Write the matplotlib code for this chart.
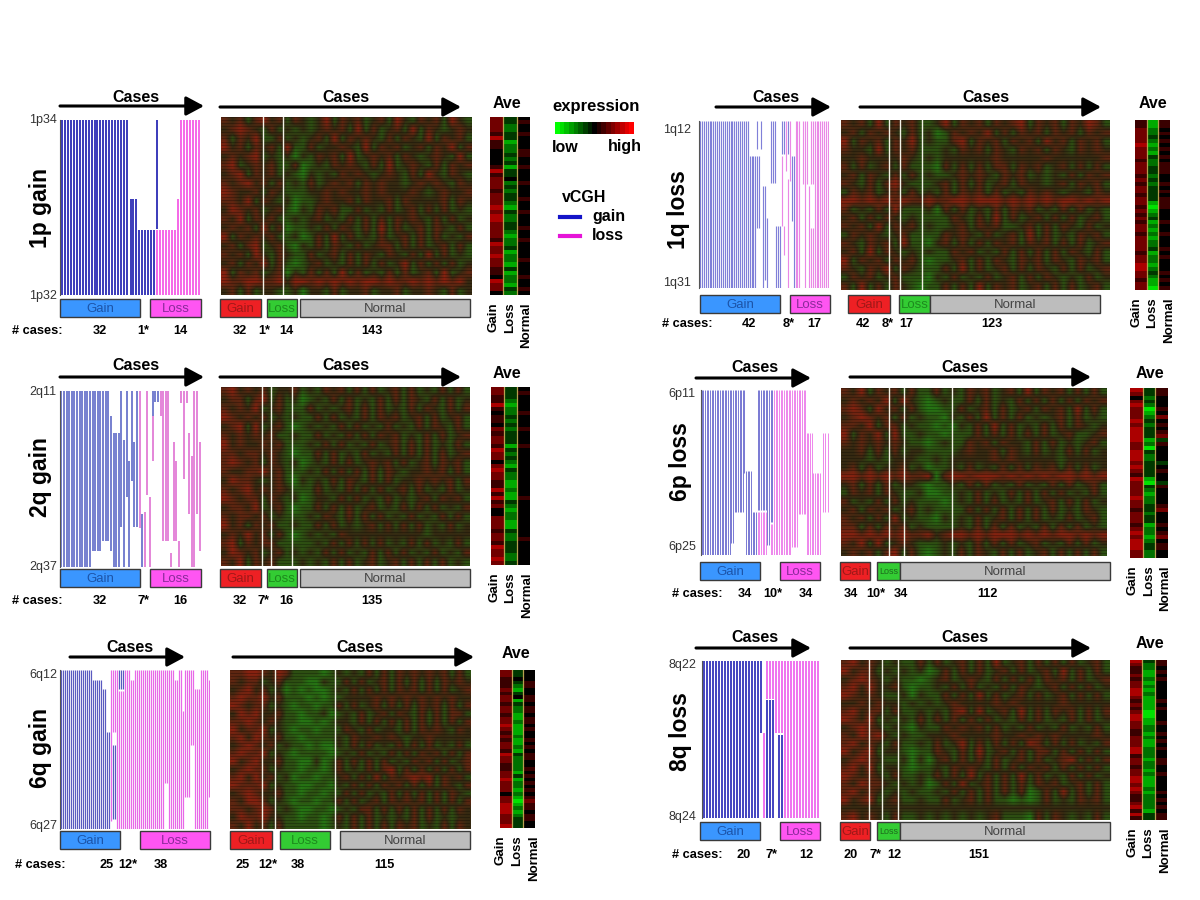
import numpy as np
import matplotlib
matplotlib.use("Agg")
import matplotlib.pyplot as plt
from matplotlib.colors import LinearSegmentedColormap
from matplotlib.patches import Rectangle

plt.rcParams['font.family'] = ['Liberation Sans', 'DejaVu Sans']

# ------------------------------
# vCGH runs: (how many cases, kind, top %, bottom %, [kind, top %, bottom %])
# ------------------------------
V_1P = [(23,'g',0,100),(3,'g',45,100),(6,'g',63,100),(1,'g',0,62,'l',63,100),
        (6,'l',63,100),(1,'l',45,100),(7,'l',0,100)]
V_2Q = [(12,'g',0,100),(4,'g',0,91),(3,'g',0,85),(1,'g',14,91),(2,'g',24,100),
        (1,'g',24,100),(1,'g',0,77),(1,'g',28,100),(1,'g',0,60),(1,'g',40,100),
        (1,'g',0,51),(1,'g',29,77),(1,'g',0,77),(1,'l',0,78),(1,'g',70,100),
        (1,'l',69,100),(1,'l',0,59),(1,'l',60,100),(1,'g',0,14,'l',14,40),
        (1,'g',0,6),(1,'g',0,6),
        (1,'l',0,14),(3,'l',0,85),(1,'l',92,100),(1,'l',29,85),(1,'l',40,85),
        (1,'l',85,100),(1,'l',0,7),(1,'l',0,50),(1,'l',0,7),(1,'l',24,70),
        (1,'l',37,100),(1,'l',0,100),(1,'l',0,70),(1,'l',29,91)]
V_1Q = [(26,'g',0,100),(4,'g',21,100),(1,'g',0,17,'g',21,64),(1,'g',21,64),
        (1,'g',0,17),(1,'g',39,100),(1,'g',39,95),(1,'g',58,100),(1,),
        (2,'g',0,37),(1,'g',0,37),(1,'g',63,100),(2,'g',63,100),
        (1,'g',0,20,'l',21,63),(1,'g',0,20,'l',63,80),(1,'l',0,30),
        (1,'g',0,20,'l',35,100),(1,'l',0,36),(1,'g',21,60),(1,'g',21,100),(1,'l',0,100),
        (2,'l',0,100),(1,),(1,'l',0,38),(1,'l',0,100),(1,'l',0,38),(1,'l',39,100),
        (2,'l',0,38,'l',64,100),(8,'l',0,100)]
V_6P = [(18,'g',0,100),(2,'g',0,93),(6,'g',0,74),(1,'g',0,50),(4,'g',49,100),(3,'g',74,100),
        (6,'g',0,73,'l',74,100),(2,'g',0,94),(2,'g',0,80,'l',81,100),
        (11,'l',0,100),(4,'l',0,95),(5,'l',0,75),(4,'l',26,100),(5,'l',50,100),
        (1,),(2,'l',26,74),(1,),(1,'l',26,74)]
V_6Q = [(16,'g',0,100),(5,'g',6,100),(2,'g',12,100),(2,'g',39,100),
        (1,'l',0,95),(2,'g',47,94,'l',0,39),(1,'l',0,100),(3,'g',0,12,'l',13,100),
        (1,'l',0,100),(2,'l',0,100),(2,'l',6,100),
        (15,'l',0,100),(2,'l',0,71),(3,'l',0,100),(2,'l',6,100),(2,'l',0,100),(1,'l',26,100),
        (2,'l',0,80),(1,'l',0,80),(2,'l',0,47),(3,'l',12,100),(4,'l',0,100),(1,'l',6,80)]
V_8Q = [(19,'g',0,100),(1,'g',0,46),(1,'l',46,100),(3,'l',0,24,'g',25,100),(1,'l',0,46),
        (2,'l',0,46,'g',47,100),(12,'l',0,100)]

# ------------------------------
# expression, coarse reading of each map. digit 4 = black, 0 = green, 8 = red
# ------------------------------
H_1P = [
 "54535645354346354534536435453643","45654353434345453635345363543454",
 "53546335343453635454353543635453","64535453633534454363545345354635",
 "45456343424354536345453543454363","56345453352343545435363454353545",
 "45635453432434354543454353643543","54564535343534545354544345454354",
 "65445354333445454454544454345445","55463543423345445354453544445354",
 "46545345324354533534353453535343","54635453343453435353535454353534",
 "45453635233435354353635345354353","63545453342353635343534535353435",
 "45356345324353543534553535345353","54536435433534535354354353635343",
 "45354635323453435353534635353534","63545345243535363534353534536345",
 "65566556466565656566565565656564","45353443342443534453445344543534"]
H_1Q = [
 "54536354533463545354563545354653","45354543534235454635354535453545",
 "63545354634335635453545364535453","54436354533343545354354535435454",
 "44544445434344444454444454444445","53534535333253535355354534535353",
 "45354353534334545435453434353545","54353564333453535345354434535453",
 "35453453534353545353435454344354","66565656556556656665656565665656",
 "53435363334253534353545343535343","45353543433335435363534535353453",
 "54536354534334535453345353543534","35454345333354543534536353435453",
 "54354536332453535354535453535345","45363543434335453435353535354353",
 "63545354532334535354354535435453","54354635433353635345353543535345",
 "35453453332435343534535354343534","53635354323353536354534535353453"]
H_2Q = [
 "56454534453435453535345353435353","45535635342343535343535354353534",
 "54546345333534345353534353543535","65454534343353534353545345353453",
 "45636345323434353534353435354353","54545453343353435353545343535345",
 "64544545333435353435345353534353","55455454323353534353435353535345",
 "56545354342343535345453534535453","54455645333435353535354344545353",
 "46554345324343535435353445454535","54564545433353435353534535343534",
 "65455354342344353534353434535453","45546345323353535345343535353435",
 "54554534333435435353534353435353","64535453343353534345353535343534",
 "45464535323434354444444444344444","56354553333343535353534353534353",
 "46545345343435353435353534353435","54635453334343535345345353535343"]
H_6P = [
 "54635453533534354534536354535353","45454636432343353534353535353545",
 "56536453532233534535345354536353","45654535343324353635353434535343",
 "55463553433232435363534353535434","63546363343323335353535353453345",
 "54545454332343354535443535343453","44535353443333454453543534353534",
 "44434344433434444454544444344444","45353445342334353435353545353534",
 "66565656556256656665656565665656","45353534432334353534353435353453",
 "35453543342233435343535353534353","53435353433323435353435345353534",
 "45354534534333353535353535343543","54535363433243435345353534353453",
 "55353545343333435353534353535343","66565656556456656566656565665656",
 "54636345433343435353534534353534","45453563532343535435353453535353"]
H_6Q = [
 "55665465333323434353535454545353","54553453332243353534535353535454",
 "45645342323223435353535453535345","56556453332323344445454545454544",
 "65455343233233535345353535453535","46564453323342343534535435353553",
 "55654543322323443535353535353535","64556343233233354353443535454354",
 "56465453323333435445454344544444","45654534332322435353435353534353",
 "56556343233332343534353535453535","64564453322423535353534354535345",
 "45655343323323534353563535353535","56464534233233453536354565635453",
 "65556343322332435353545353535435","45654453323323353534353535353543",
 "54665343233233535345354545353535","55456534322332343553535353535354",
 "46556443323323535353434353534344","54645353333323435353535453435354"]
H_8Q = [
 "56454343353534535363453535353453","64553434342353535345353453635353",
 "45654343323453454353535354535345","56464453233435353435354345353534",
 "65454334243353536353453534535353","44545443434345444454544444544444",
 "56455353343435636345363535453535","65463434353535353534353534353534",
 "45654343243354545353435343534353","54656434334445444454454545444454",
 "56454353343534635353536535353435","64563443233543536345353553535353",
 "45654334242453535353453534563535","56463443233435454353535453535353",
 "65454353343535363535363534353534","54655434342353634535353545345353",
 "56454343433435353535352353635353","64563453343353453533232353435453",
 "44444444444444444444444444444444","56454353343434343453332535434353"]

# ------------------------------
# Ave strips, top to bottom
# ------------------------------
A_1P_GAIN = "66665755444457566656667677666657667665547664"
A_1P_LOSS = "33223312232313342323321322332122312213122132"
A_1P_NORM = "45445444554454445444544544454454444544454454"
A_1Q_GAIN = "55666676665666565665665656566566665667766566"
A_1Q_LOSS = "11223212132233232333310123121212231221232110"
A_1Q_NORM = "55454545454555445454555444544544454544454545"
A_2Q_GAIN = "66557545546566576646766557575644666566576676"
A_2Q_LOSS = "33321223232333132321322112113212211322333223"
A_2Q_NORM = "45444454445444544444444444454444444445444444"
A_6P_GAIN = "76467666767777667776765766667665666567677766"
A_6P_LOSS = "33232012323331203223333103212233233122123322"
A_6P_NORM = "55444546454563544443454435444456444545645544"
A_6Q_GAIN = "66555656656656676565665766556676664667776667"
A_6Q_LOSS = "33432134132211211121121322221312212101212333"
A_6Q_NORM = "44455445545545545445454554454545454565545544"
A_8Q_GAIN = "76556566776565677665566677566566776765567575"
A_8Q_LOSS = "32211212121111001122121122212212111212222133"
A_8Q_NORM = "55454544444545444544545454455445444454545455"

# ------------------------------
# labels
# ------------------------------
COUNTS_1P = ['32', '1*', '14', '32', '1*', '14', '143']
COUNTS_1Q = ['42', '8*', '17', '42', '8*', '17', '123']
COUNTS_2Q = ['32', '7*', '16', '32', '7*', '16', '135']
COUNTS_6P = ['34', '10*', '34', '34', '10*', '34', '112']
COUNTS_6Q = ['25', '12*', '38', '25', '12*', '38', '115']
COUNTS_8Q = ['20', '7*', '12', '20', '7*', '12', '151']
SPLITS_1P = [32, 47]
SPLITS_1Q = [34, 42, 57]
SPLITS_2Q = [31, 38, 54]
SPLITS_6P = [34, 45, 79]
SPLITS_6Q = [25, 36, 83]
SPLITS_8Q = [20, 29, 40]
TOTAL_CASES = 190
AVE_LABELS = ['Gain', 'Loss', 'Normal']

# pixel layout of each panel
PANELS = [
    dict(name='1p gain', vx=(60, 201, 120, 295), hx=(221, 472, 117, 295), ax_=(490, 530, 117, 295),
         lab=(40, 208), t1=('1p34', 43, 120), t2=('1p32', 43, 296),
         arr1=(60, 204, 106), c1=136, cy=97, arr2=(220, 461, 107), c2=346, ave=(507, 104),
         bars=[(60, 140, 'gb'), (150, 201, 'pl'), (220, 261, 'rg'), (267, 297, 'gl'), (300, 470, 'nn')],
         by=299, cnt_y=331, cnt_lab=12, cnt_x=[100, 143, 180, 240, 264, 286, 372],
         v=V_1P, h=H_1P, a=(A_1P_GAIN, A_1P_LOSS, A_1P_NORM), counts=COUNTS_1P, splits=SPLITS_1P,
         gc='#2a2ab4', lc='#f45ae6'),
    dict(name='1q loss', vx=(699, 829, 121, 288), hx=(841, 1110, 120, 290), ax_=(1135, 1170, 120, 290),
         lab=(678, 210), t1=('1q12', 677, 130), t2=('1q31', 677, 283),
         arr1=(716, 831, 107), c1=776, cy=97, arr2=(860, 1101, 107), c2=986, ave=(1153, 104),
         bars=[(700, 780, 'gb'), (790, 830, 'pl'), (848, 890, 'rg'), (899, 930, 'gl'), (930, 1100, 'nn')],
         by=295, cnt_y=324, cnt_lab=662, cnt_x=[749, 789, 814, 863, 888, 906, 992],
         v=V_1Q, h=H_1Q, a=(A_1Q_GAIN, A_1Q_LOSS, A_1Q_NORM), counts=COUNTS_1Q, splits=SPLITS_1Q,
         gc='#8080d8', lc='#ea88e6'),
    dict(name='2q gain', vx=(60, 201, 391, 567), hx=(221, 470, 387, 566), ax_=(491, 530, 387, 565),
         lab=(40, 477), t1=('2q11', 43, 392), t2=('2q37', 43, 567),
         arr1=(60, 204, 377), c1=136, cy=366, arr2=(220, 461, 377), c2=346, ave=(507, 373),
         bars=[(60, 140, 'gb'), (150, 201, 'pl'), (220, 261, 'rg'), (267, 297, 'gl'), (300, 470, 'nn')],
         by=569, cnt_y=601, cnt_lab=12, cnt_x=[100, 143, 180, 240, 264, 286, 372],
         v=V_2Q, h=H_2Q, a=(A_2Q_GAIN, A_2Q_LOSS, A_2Q_NORM), counts=COUNTS_2Q, splits=SPLITS_2Q,
         gc='#5560c4', lc='#dd68cf'),
    dict(name='6p loss', vx=(701, 829, 390, 555), hx=(841, 1107, 388, 556), ax_=(1130, 1168, 388, 558),
         lab=(680, 462), t1=('6p11', 682, 394), t2=('6p25', 682, 547),
         arr1=(696, 811, 378), c1=755, cy=367, arr2=(850, 1091, 377), c2=965, ave=(1150, 374),
         bars=[(700, 760, 'gb'), (780, 820, 'pl'), (840, 870, 'rg'), (877, 900, 'gs'), (900, 1110, 'nn')],
         by=562, cnt_y=594, cnt_lab=672, cnt_x=[745, 773, 806, 851, 876, 901, 987],
         v=V_6P, h=H_6P, a=(A_6P_GAIN, A_6P_LOSS, A_6P_NORM), counts=COUNTS_6P, splits=SPLITS_6P,
         gc='#7a7ad4', lc='#ee88ec'),
    dict(name='6q gain', vx=(60, 210, 670, 829), hx=(230, 470, 670, 829), ax_=(500, 535, 670, 828),
         lab=(40, 748), t1=('6q12', 43, 675), t2=('6q27', 43, 826),
         arr1=(70, 185, 657), c1=130, cy=647, arr2=(233, 474, 657), c2=360, ave=(516, 654),
         bars=[(60, 120, 'gb'), (140, 210, 'pl'), (230, 272, 'rg'), (280, 330, 'gl'), (340, 470, 'nn')],
         by=831, cnt_y=865, cnt_lab=15, cnt_x=[107, 128, 161, 243, 268, 298, 384],
         v=V_6Q, h=H_6Q, a=(A_6Q_GAIN, A_6Q_LOSS, A_6Q_NORM), counts=COUNTS_6Q, splits=SPLITS_6Q,
         gc='#5a5ac0', lc='#e868e8'),
    dict(name='8q loss', vx=(702, 819, 661, 818), hx=(841, 1110, 660, 820), ax_=(1130, 1167, 660, 820),
         lab=(680, 732), t1=('8q22', 682, 665), t2=('8q24', 682, 817),
         arr1=(696, 811, 648), c1=755, cy=637, arr2=(850, 1091, 648), c2=965, ave=(1150, 644),
         bars=[(700, 760, 'gb'), (780, 820, 'pl'), (840, 870, 'rg'), (877, 900, 'gs'), (900, 1110, 'nn')],
         by=822, cnt_y=855, cnt_lab=672, cnt_x=[744, 772, 806, 851, 875, 894, 979],
         v=V_8Q, h=H_8Q, a=(A_8Q_GAIN, A_8Q_LOSS, A_8Q_NORM), counts=COUNTS_8Q, splits=SPLITS_8Q,
         gc='#3333bb', lc='#ee66ee'),
]

BAR_STYLE = {
    'gb': ('Gain', '#3a96ff', '#1c54a8', 9.5), 'pl': ('Loss', '#ff55f2', '#8a2a9a', 9.5),
    'rg': ('Gain', '#ee2024', '#a01818', 9.5), 'gl': ('Loss', '#33cc33', '#1d8a1d', 9.5),
    'gs': ('Loss', '#33cc33', '#1d6a1d', 6.5), 'nn': ('Normal', '#bdbdbd', '#444444', 9.5),
}

CMAP = LinearSegmentedColormap.from_list('gbr', ['#00ff00', '#000000', '#ff0000'])
# the fine speckle averages to a brown, so the coarse map is drawn on that midpoint
HEAT_CMAP = LinearSegmentedColormap.from_list('heat', ['#1e9a14', '#352a12', '#b01e10'])
W, H = 1200, 900

fig = plt.figure(figsize=(12, 9), dpi=100, facecolor='white')


def ax_px(x0, x1, y0, y1):
    a = fig.add_axes([x0 / W, 1 - y1 / H, (x1 - x0) / W, (y1 - y0) / H])
    a.set_axis_off()
    return a


def to_matrix(rows):
    return np.array([[int(c) - 4 for c in r] for r in rows])


# overlay for the text, arrows and the coloured boxes
over = fig.add_axes([0, 0, 1, 1], zorder=5)
over.set_xlim(0, W)
over.set_ylim(H, 0)
over.set_axis_off()
over.patch.set_alpha(0)


def draw_vcgh(p):
    x0, x1, y0, y1 = p['vx']
    a = ax_px(x0, x1, y0, y1)
    n_cases = sum(r[0] for r in p['v'])
    a.set_xlim(-0.5, n_cases - 0.5)
    a.set_ylim(100, 0)
    pitch = (x1 - x0) / n_cases
    lw = pitch * 0.6 * 72 / 100
    i = 0
    for run in p['v']:
        n = run[0]
        segs = run[1:]
        for c in range(i, i + n):
            for s in range(0, len(segs), 3):
                col = p['gc'] if segs[s] == 'g' else p['lc']
                a.vlines(c, segs[s + 1], segs[s + 2], color=col, lw=lw)
        i += n
    over.plot([x0 - 0.5, x0 - 0.5], [y0, y1], color='#555555', lw=0.8)


def draw_heat(p):
    x0, x1, y0, y1 = p['hx']
    a = ax_px(x0, x1, y0, y1)
    a.imshow(to_matrix(p['h']), cmap=HEAT_CMAP, vmin=-3, vmax=3, aspect='auto',
             interpolation='bilinear', extent=[0, TOTAL_CASES, len(p['h']), 0])
    # thin row separators, the map has about one row every 3 px
    a.hlines(np.linspace(0, len(p['h']), (y1 - y0) // 3), 0, TOTAL_CASES, color='black', lw=0.6, alpha=0.3)
    for s in p['splits']:
        a.axvline(s, color='#f2f2e6', lw=1.0)


def draw_ave(p):
    x0, x1, y0, y1 = p['ax_']
    a = ax_px(x0, x1, y0, y1)
    a.imshow(to_matrix(list(zip(*p['a']))), cmap=CMAP, vmin=-4.5, vmax=4.5, aspect='auto',
             interpolation='nearest', extent=[0, 3, len(p['a'][0]), 0])
    for s in (1, 2):
        a.axvline(s, color='#b8a050', lw=0.9)
    mid = (x0 + x1) / 2
    for k, lab in enumerate(AVE_LABELS):
        over.text(mid + (k - 1) * 16.5, y1 + 7, lab, rotation=90, ha='center', va='top',
                  fontsize=9.5, fontweight='bold', color='black')


def draw_text(p):
    over.text(p['lab'][0], p['lab'][1], p['name'], rotation=90, ha='center', va='center',
              fontsize=16.5, fontweight='bold')
    for t in (p['t1'], p['t2']):
        over.text(t[1], t[2], t[0], ha='center', va='center', fontsize=9, color='#333333')
    for arr, cx in ((p['arr1'], p['c1']), (p['arr2'], p['c2'])):
        over.annotate('', xy=(arr[1], arr[2]), xytext=(arr[0], arr[2]),
                      arrowprops=dict(arrowstyle='-|>,head_length=0.54,head_width=0.29', lw=2.2, color='black',
                                      mutation_scale=20, shrinkA=0, shrinkB=0))
        over.text(cx, p['cy'], 'Cases', ha='center', va='center', fontsize=11.5, fontweight='bold')
    over.text(p['ave'][0], p['ave'][1], 'Ave', ha='center', va='center', fontsize=11.5, fontweight='bold')
    for b0, b1, key in p['bars']:
        label, fc, tc, fs = BAR_STYLE[key]
        over.add_patch(Rectangle((b0, p['by']), b1 - b0, 18, fc=fc, ec='#3a3a3a', lw=1.0))
        over.text((b0 + b1) / 2, p['by'] + 10, label, ha='center', va='center', fontsize=fs, color=tc)
    over.text(p['cnt_lab'], p['cnt_y'], '# cases:', ha='left', va='center', fontsize=9.2, fontweight='bold')
    for cx, s in zip(p['cnt_x'], p['counts']):
        over.text(cx, p['cnt_y'], s, ha='center', va='center', fontsize=9.2, fontweight='bold')


for p in PANELS:
    draw_vcgh(p)
    draw_heat(p)
    draw_ave(p)
    draw_text(p)

# ------------------------------
# colour key and vCGH key
# ------------------------------
key = ax_px(555, 634, 122, 134)
key.imshow(np.linspace(-4, 4, 17).reshape(1, -1), cmap=CMAP, vmin=-4, vmax=4, aspect='auto', interpolation='nearest')
over.text(552, 107, 'expression', ha='left', va='center', fontsize=12, fontweight='bold')
over.text(552, 147, 'low', ha='left', va='center', fontsize=11.5, fontweight='bold')
over.text(642, 147, 'high', ha='right', va='center', fontsize=11.5, fontweight='bold')
over.text(562, 197, 'vCGH', ha='left', va='center', fontsize=11.5, fontweight='bold')
over.plot([560, 580], [217, 217], color='#1414c8', lw=3)
over.plot([560, 580], [236, 236], color='#e614d8', lw=3)
over.text(592, 217, 'gain', ha='left', va='center', fontsize=11.5, fontweight='bold')
over.text(592, 236, 'loss', ha='left', va='center', fontsize=11.5, fontweight='bold')

fig.savefig('out.png', dpi=100, facecolor='white')
